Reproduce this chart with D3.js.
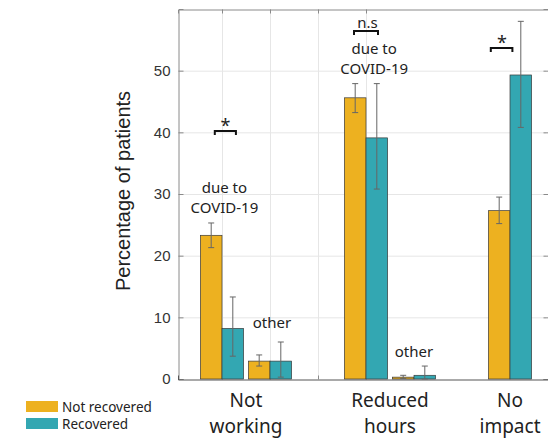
<!DOCTYPE html>
<html>
<head>
<meta charset="utf-8">
<script src="https://cdn.jsdelivr.net/npm/d3@7"></script>
<style>
  html, body { margin: 0; padding: 0; background: #fff; }
  svg { display: block; }
</style>
</head>
<body>
<svg id="chart" width="548" height="439"></svg>
<script>
// ---- Data ----
const barPositions = [1, 2, 4, 5, 7];
const notRecovered = [23.3, 2.9, 45.6, 0.3, 27.3];
const recovered    = [8.2, 2.9, 39.1, 0.6, 49.3];
const notRecoveredErrLow  = [21.3, 2.1, 43.2, 0.1, 25.2];
const notRecoveredErrHigh = [25.3, 3.9, 47.9, 0.6, 29.5];
const recoveredErrLow  = [3.7, 0.3, 30.8, 0.0, 40.8];
const recoveredErrHigh = [13.3, 6.0, 47.9, 2.1, 58.0];
const groupLabels = [["Not", "working"], ["Reduced", "hours"], ["No", "impact"]];
const groupCenters = [1.5, 4.5, 7];
const yTicks = [0, 10, 20, 30, 40, 50];
const xGridTicks = [1, 2, 3, 4];
const seriesNames = ["Not recovered", "Recovered"];
const seriesColors = ["#EDB120", "#33A7B2"];

// ---- Scales ----
const svg = d3.select("#chart");
const x = d3.scaleLinear().domain([1 - 44/48, 1 + (549 - 222)/48]).range([178, 549]);
const y = d3.scaleLinear().domain([0, 60]).range([379, 9]);
const halfW = 0.45;

const gridColor = "#e6e6e6";
const axisColor = "#8a8a8a";

// grid
svg.append("g").selectAll("line.h").data(yTicks.slice(1)).join("line")
  .attr("x1", x.range()[0]).attr("x2", 546)
  .attr("y1", d => y(d) + 0.5).attr("y2", d => y(d) + 0.5)
  .attr("stroke", gridColor).attr("stroke-width", 1);
svg.append("g").selectAll("line.v").data(xGridTicks).join("line")
  .attr("x1", d => Math.round(x(d)) + 0.5).attr("x2", d => Math.round(x(d)) + 0.5)
  .attr("y1", y(60)).attr("y2", y(0))
  .attr("stroke", gridColor).attr("stroke-width", 1);

// axes
const yAxis = d3.axisLeft(y).tickValues(yTicks).tickSize(-5).tickPadding(8);
const yg = svg.append("g").attr("transform", `translate(${x.range()[0] + 0.5},0)`).call(yAxis);
yg.select(".domain").attr("stroke", axisColor);
yg.selectAll(".tick line").attr("stroke", axisColor);
yg.selectAll(".tick text").attr("font-family", "Liberation Sans, Arial, sans-serif")
  .attr("font-size", 15).attr("fill", "#333");

const yAxisR = d3.axisRight(y).tickValues(yTicks).tickSize(-5).tickFormat("");
const yr = svg.append("g").attr("transform", `translate(548.5,0)`).call(yAxisR);
yr.select(".domain").attr("stroke", axisColor);
yr.selectAll(".tick line").attr("stroke", axisColor);

const xAxisTop = d3.axisTop(x).tickValues(xGridTicks).tickSize(-4).tickFormat("");
const xt = svg.append("g").attr("transform", `translate(0,${y(60) + 0.5})`).call(xAxisTop);
xt.select(".domain").attr("stroke", axisColor);
xt.selectAll(".tick line").attr("stroke", axisColor);

const xAxisBot = d3.axisBottom(x).tickValues(xGridTicks).tickSize(-4).tickFormat("");
const xb = svg.append("g").attr("transform", `translate(0,${y(0) + 0.5})`).call(xAxisBot);
xb.select(".domain").attr("stroke", "#555");
xb.selectAll(".tick line").attr("stroke", axisColor);

// bars
const barsG = svg.append("g");
const series = [
  { vals: notRecovered, lo: notRecoveredErrLow, hi: notRecoveredErrHigh, off: -halfW, color: seriesColors[0] },
  { vals: recovered, lo: recoveredErrLow, hi: recoveredErrHigh, off: 0, color: seriesColors[1] }
];
series.forEach(s => {
  barsG.selectAll(null).data(barPositions).join("rect")
    .attr("x", d => x(d + s.off))
    .attr("width", x(halfW) - x(0))
    .attr("y", (d, i) => y(s.vals[i]))
    .attr("height", (d, i) => y(0) - y(s.vals[i]))
    .attr("fill", s.color).attr("stroke", "#3a3a3a").attr("stroke-width", 0.7);
});
// error bars
series.forEach(s => {
  const g = svg.append("g").attr("stroke", "#666").attr("stroke-width", 1);
  barPositions.forEach((d, i) => {
    const cx = x(d + s.off + halfW / 2);
    g.append("line").attr("x1", cx).attr("x2", cx).attr("y1", y(s.lo[i])).attr("y2", y(s.hi[i]));
    g.append("line").attr("x1", cx - 3).attr("x2", cx + 3).attr("y1", y(s.lo[i])).attr("y2", y(s.lo[i]));
    g.append("line").attr("x1", cx - 3).attr("x2", cx + 3).attr("y1", y(s.hi[i])).attr("y2", y(s.hi[i]));
  });
});

const annFont = "Noto Sans, Open Sans, sans-serif";
// group labels
groupLabels.forEach((lines, i) => {
  const t = svg.append("text").attr("x", x(groupCenters[i])).attr("text-anchor", "middle")
    .attr("font-family", annFont).attr("font-size", 19).attr("fill", "#222");
  t.append("tspan").attr("x", x(groupCenters[i])).attr("y", 407).text(lines[0]);
  t.append("tspan").attr("x", x(groupCenters[i])).attr("y", 433).text(lines[1]);
});

// annotations
function label(str, xv, yy, size) {
  svg.append("text").attr("x", xv).attr("y", yy).attr("text-anchor", "middle")
    .attr("font-family", annFont).attr("font-size", size || 15).attr("fill", "#222").text(str);
}
label("due to", x(1.05), 193);
label("COVID-19", x(1.05), 213);
label("other", x(2.04), 328);
label("due to", x(4.17), 54);
label("COVID-19", x(4.17), 74);
label("other", x(5.0), 357);
label("n.s", x(4.03), 28);

function bracket(x1, x2, yy) {
  svg.append("path").attr("d", `M${x1},${yy + 4}V${yy}H${x2}V${yy + 4}`)
    .attr("fill", "none").attr("stroke", "#111").attr("stroke-width", 2);
}
bracket(x(0.85), x(1.29), 131);
label("*", x(1.07), 132, 18);
bracket(x(3.75), x(4.25), 31);
bracket(x(6.6), x(7.05), 48);
label("*", x(6.83), 49, 18);

// y title
svg.append("text").attr("transform", `translate(130,191) rotate(-90)`)
  .attr("text-anchor", "middle").attr("font-family", "Liberation Sans, Arial, sans-serif")
  .attr("font-size", 20).attr("fill", "#222").text("Percentage of patients");

// legend
seriesNames.forEach((n, i) => {
  svg.append("rect").attr("x", 26).attr("y", 401 + i * 17).attr("width", 32).attr("height", 11)
    .attr("fill", seriesColors[i]);
  svg.append("text").attr("x", 62).attr("y", 411.5 + i * 17)
    .attr("font-family", annFont).attr("font-size", 13.5).attr("fill", "#222").text(n);
});
</script>
</body>
</html>
